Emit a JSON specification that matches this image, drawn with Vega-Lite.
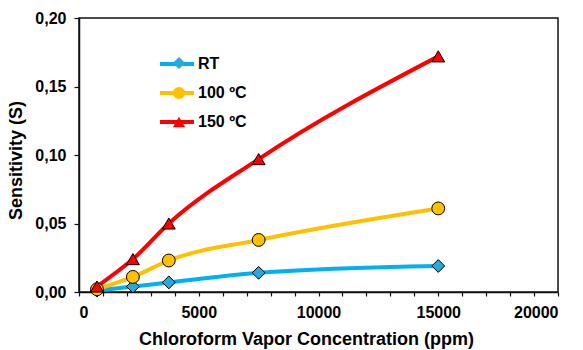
{
  "$schema": "https://vega.github.io/schema/vega-lite/v6.json",
  "width": 479,
  "height": 274,
  "autosize": "none",
  "padding": {"left": 79, "top": 18, "right": 25, "bottom": 58},
  "background": "white",
  "config": {
    "view": {"stroke": "#111", "strokeWidth": 1.5},
    "font": "Liberation Sans",
    "axis": {"labelFont": "Liberation Sans", "labelFontWeight": "bold", "labelFontSize": 16, "labelColor": "black", "titleFont": "Liberation Sans", "titleFontWeight": "bold", "titleFontSize": 18, "titleColor": "black", "grid": false, "domainColor": "#111", "tickColor": "#111", "domainWidth": 1.5, "tickWidth": 1.2},
    "legend": {"labelFont": "Liberation Sans", "labelFontSize": 16, "labelFontWeight": "bold", "labelColor": "black"}
  },
  "data": {"values": [
    {"conc": 750, "S": 0.001, "series": "RT"},
    {"conc": 2250, "S": 0.004, "series": "RT"},
    {"conc": 3750, "S": 0.007, "series": "RT"},
    {"conc": 7500, "S": 0.014, "series": "RT"},
    {"conc": 15000, "S": 0.019, "series": "RT"},
    {"conc": 750, "S": 0.002, "series": "100 ºC"},
    {"conc": 2250, "S": 0.011, "series": "100 ºC"},
    {"conc": 3750, "S": 0.023, "series": "100 ºC"},
    {"conc": 7500, "S": 0.038, "series": "100 ºC"},
    {"conc": 15000, "S": 0.061, "series": "100 ºC"},
    {"conc": 750, "S": 0.004, "series": "150 ºC"},
    {"conc": 2250, "S": 0.024, "series": "150 ºC"},
    {"conc": 3750, "S": 0.050, "series": "150 ºC"},
    {"conc": 7500, "S": 0.097, "series": "150 ºC"},
    {"conc": 15000, "S": 0.172, "series": "150 ºC"}
  ]},
  "encoding": {
    "x": {"field": "conc", "type": "quantitative", "scale": {"domain": [0, 20000], "nice": false},
      "axis": {"title": "Chloroform Vapor Concentration (ppm)", "values": [0,1000,2000,3000,4000,5000,6000,7000,8000,9000,10000,11000,12000,13000,14000,15000,16000,17000,18000,19000,20000], "labelExpr": "datum.value % 5000 == 0 ? format(datum.value, 'd') : ''", "tickSize": 4, "labelPadding": 8, "titlePadding": 10, "titleX": 227}},
    "y": {"field": "S", "type": "quantitative", "scale": {"domain": [0, 0.2], "nice": false},
      "axis": {"title": "Sensitivity (S)", "values": [0, 0.05, 0.1, 0.15, 0.2], "labelExpr": "replace(format(datum.value, '.2f'), '.', ',')", "tickSize": 5, "labelPadding": 8, "titlePadding": 9, "titleY": 142}}
  },
  "layer": [
    {
      "mark": {"type": "line", "interpolate": "monotone", "strokeWidth": 4},
      "encoding": {
        "stroke": {"field": "series", "type": "nominal",
          "sort": ["RT", "100 ºC", "150 ºC"],
          "scale": {"range": ["#00B0F0", "#FFC000", "#FF0000"]},
          "legend": {"title": null, "orient": "none", "legendX": 79, "legendY": 27, "symbolType": "stroke", "symbolStrokeWidth": 4, "symbolSize": 1156, "labelOffset": 2, "rowPadding": 2}}
      }
    },
    {
      "mark": {"type": "point", "filled": true, "size": 165, "stroke": "black", "strokeWidth": 1, "opacity": 1},
      "encoding": {
        "fill": {"field": "series", "type": "nominal",
          "scale": {"domain": ["RT", "100 ºC", "150 ºC"], "range": ["#29A8E0", "#FFC000", "#FF0000"]},
          "legend": null},
        "shape": {"field": "series", "type": "nominal",
          "scale": {"domain": ["RT", "100 ºC", "150 ºC"], "range": ["diamond", "circle", "triangle-up"]},
          "legend": {"title": null, "orient": "none", "legendX": 92, "legendY": 37, "symbolStrokeColor": "black", "symbolStrokeWidth": 1, "symbolSize": 150, "labelOpacity": 0, "rowPadding": 12, "symbolOpacity": 1}}
      }
    }
  ]
}
